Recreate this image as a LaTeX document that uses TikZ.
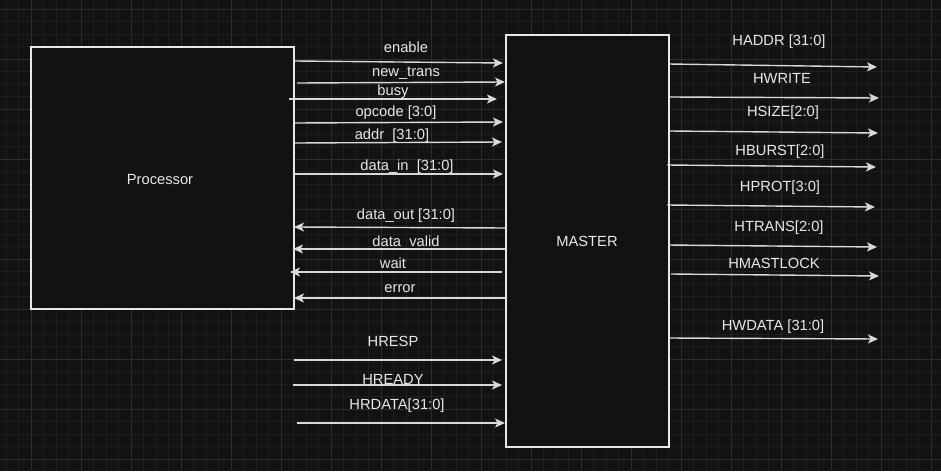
\documentclass[tikz,border=0pt]{standalone}
\usepackage{fontspec}
\setmainfont{Liberation Sans}
\usetikzlibrary{arrows.meta}
\definecolor{bg}{HTML}{121212}
\definecolor{gridminor}{HTML}{1E1E1E}
\definecolor{gridmajor}{HTML}{2C2C2C}
\definecolor{ink}{HTML}{E8E8E8}
\definecolor{wire}{HTML}{D8D8D8}
\begin{document}
\begin{tikzpicture}[x=1pt,y=-1pt,
  block/.style={draw=ink, fill=bg, line width=1.5pt, inner sep=0pt},
  sig/.style={draw=wire, line width=1.4pt,
    -{Stealth[length=10pt,width=9pt,inset=2.5pt]}},
  lbl/.style={text=ink, font=\fontsize{14.7}{17}\selectfont, anchor=base, inner sep=0pt}]
\fill[bg] (0,0) rectangle (941,471);
\useasboundingbox (0,0) rectangle (941,471);
% grid
\foreach \x in {6,18.5,...,941} \draw[gridminor, line width=1pt] (\x,0) -- (\x,471);
\foreach \y in {9,21.5,...,471} \draw[gridminor, line width=1pt] (0,\y) -- (941,\y);
\foreach \x in {31,81,...,941} \draw[gridmajor, line width=1pt] (\x,0) -- (\x,471);
\foreach \y in {9,59,...,471} \draw[gridmajor, line width=1pt] (0,\y) -- (941,\y);
% blocks
\node[block, minimum width=263pt, minimum height=262pt] (proc) at (162.5,178) {};
\node[block, minimum width=163pt, minimum height=412pt] (master) at (587.5,241) {};
\node[lbl] (proc-l) at (160,184.5) {Processor};
\node[lbl] (master-l) at (587,246) {MASTER};
% signals
\foreach \n/\xa/\ya/\xb/\yb/\lx/\ly/\t in {
  en/295/61/503/63/406/52.7/enable,
  nt/297/83/505/82/406/76/new\_trans,
  busy/289/99/497/99/393/95.7/busy,
  op/295/123/503/122/396/116/opcode [3:0],
  addr/295/143/502/142/392/139/addr~~[31:0],
  din/295/174/503/174/407/170/data\_in~~[31:0],
  dout/506/228/294/227/406/219/data\_out [31:0],
  dv/505/249/293/249/406/246/data\_valid,
  wait/502/272/290/272/393/268.5/wait,
  err/506/298/294/298/400/292.5/error,
  hresp/294/360/502/360/393/346/HRESP,
  hready/293/385/502/385/393/384/HREADY,
  hrdata/297/423/505/423/397/409/HRDATA[31:0],
  haddr/669/64/877/67/779/45.3/HADDR [31:0],
  hwrite/670/97/879/98/782/83.3/HWRITE,
  hsize/670/131/878/133/783/116/HSIZE[2:0],
  hburst/667/165/876/167/780/155.3/HBURST[2:0],
  hprot/667/205/875/207/780/191.3/HPROT[3:0],
  htrans/668/245/877/247/779/231.3/HTRANS[2:0],
  hlock/671/274/879/276/774/268.7/HMASTLOCK,
  hwdata/669/338/878/339/773/330.7/HWDATA [31:0]} {
  \coordinate (\n-s) at (\xa,\ya);
  \coordinate (\n-e) at (\xb,\yb);
  \draw[sig] (\n-s) -- (\n-e);
  \node[lbl] (\n-l) at (\lx,\ly) {\t};
}
\end{tikzpicture}
\end{document}
